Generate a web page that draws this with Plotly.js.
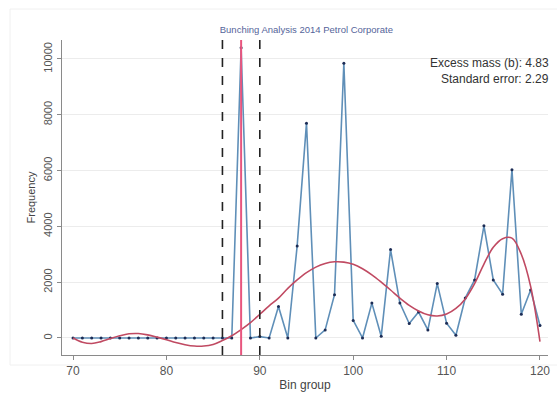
<!DOCTYPE html>
<html>
<head>
<meta charset="utf-8">
<script src="https://cdn.plot.ly/plotly-3.0.1.min.js"></script>
<style>
html,body{margin:0;padding:0;background:#fff;}
#chart{width:557px;height:410px;}
</style>
</head>
<body>
<div id="chart"></div>
<script>
// Bin groups
const bins = [70,71,72,73,74,75,76,77,78,79,80,81,82,83,84,85,86,87,88,89,90,91,92,93,94,95,96,97,98,99,100,101,102,103,104,105,106,107,108,109,110,111,112,113,114,115,116,117,118,119,120];
// Observed frequency
const observed = [0,0,0,0,0,0,0,0,0,0,0,0,0,0,0,0,0,0,10400,0,50,0,1130,0,3300,7700,0,290,1550,9850,630,0,1250,60,3170,1250,520,930,290,1950,530,100,1430,2080,4020,2080,1570,6030,850,1720,450];
// Counterfactual polynomial fit
const fitted = [0,-150,-200,-130,-20,80,150,160,110,30,-60,-160,-240,-290,-290,-230,-90,80,300,550,850,1150,1430,1780,2080,2340,2540,2670,2730,2720,2640,2480,2260,2000,1720,1430,1170,970,830,790,860,1060,1400,1950,2650,3250,3560,3580,3000,1850,-130];
// Bunching window and threshold
const lowerBound = 86;
const upperBound = 90;
const threshold = 88;
const yTicks = [0,2000,4000,6000,8000,10000];
const xTicks = [70,80,90,100,110,120];
const titleText = "Bunching Analysis 2014 Petrol Corporate";
const noteLines = ["Excess mass (b): 4.83", "Standard error: 2.29"];

const traces = [
  {
    x: bins, y: observed, type: 'scatter', mode: 'lines+markers',
    line: {color: '#5f8fb8', width: 1.6},
    marker: {color: '#1c2c55', size: 3},
    hoverinfo: 'x+y', showlegend: false
  },
  {
    x: bins, y: fitted, type: 'scatter', mode: 'lines',
    line: {color: '#c04a62', width: 1.6, shape: 'spline', smoothing: 1},
    hoverinfo: 'x+y', showlegend: false
  }
];

const vline = (xv, color, dash, width) => ({
  type: 'line', xref: 'x', yref: 'paper', x0: xv, x1: xv, y0: 0, y1: 1,
  line: {color: color, dash: dash, width: width}, layer: 'above'
});

const layout = {
  width: 557, height: 410,
  margin: {l: 62, r: 9, t: 40, b: 55},
  paper_bgcolor: '#ffffff', plot_bgcolor: '#ffffff',
  font: {family: 'Liberation Sans, Arial, sans-serif', color: '#444'},
  showlegend: false,
  title: {
    text: titleText, x: 0.55, xanchor: 'center', y: 1 - 30/410, yanchor: 'middle',
    font: {size: 9.5, color: '#55649a', family: 'Liberation Sans, Arial, sans-serif'}
  },
  xaxis: {
    range: [68.82, 120.86], tickvals: xTicks, ticktext: xTicks.map(String),
    showgrid: false, zeroline: false,
    showline: true, linecolor: '#8a8a8a', linewidth: 1.2,
    ticks: 'outside', ticklen: 4, tickcolor: '#8a8a8a',
    tickfont: {size: 12, color: '#555'},
    title: {text: 'Bin group', font: {size: 12, color: '#444'}, standoff: 4}
  },
  yaxis: {
    range: [-610, 10680], tickvals: yTicks, ticktext: yTicks.map(String),
    tickangle: -90,
    showgrid: true, gridcolor: '#ececec', gridwidth: 1, zeroline: false,
    showline: true, linecolor: '#8a8a8a', linewidth: 1.2,
    ticks: 'outside', ticklen: 4, tickcolor: '#8a8a8a',
    tickfont: {size: 11, color: '#555'},
    title: {text: 'Frequency', font: {size: 11, color: '#444'}, standoff: 4}
  },
  shapes: [
    vline(lowerBound, '#222', 'dash', 1.6),
    vline(upperBound, '#222', 'dash', 1.6),
    vline(threshold, '#e8557e', 'solid', 2),
    {type: 'rect', xref: 'paper', yref: 'paper', x0: -52/486, x1: 1.1, y0: -10/315, y1: 1 + 31/315,
     line: {color: '#f0f0f0', width: 1}, fillcolor: 'rgba(0,0,0,0)', layer: 'below'}
  ],
  annotations: noteLines.map((t, i) => ({
    text: t, xref: 'paper', yref: 'paper', x: 1 + 3/486, xanchor: 'right',
    y: 1 - (23 + 16*i)/315, yanchor: 'middle', showarrow: false,
    font: {size: 12, color: '#333'}
  }))
};

Plotly.newPlot('chart', traces, layout, {displayModeBar: false, staticPlot: true});
</script>
</body>
</html>
